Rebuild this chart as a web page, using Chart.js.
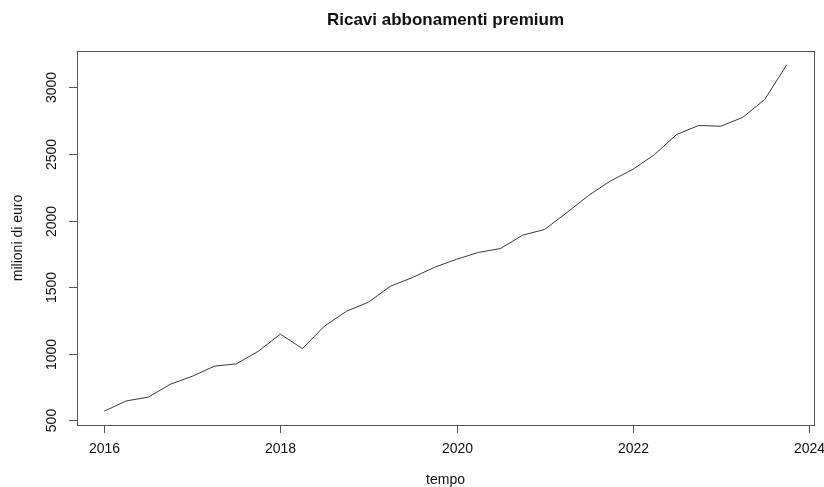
<!DOCTYPE html>
<html>
<head>
<meta charset="utf-8">
<script src="https://cdn.jsdelivr.net/npm/chart.js@4"></script>
<style>
  html, body { margin: 0; padding: 0; background: #fff; }
  #wrap { width: 824px; height: 487px; }
</style>
</head>
<body>
<div id="wrap"><canvas id="chart" width="824" height="487"></canvas></div>
<script>
// quarterly time points
const quarters = [
    2016, 2016.25, 2016.5, 2016.75,
    2017, 2017.25, 2017.5, 2017.75,
    2018, 2018.25, 2018.5, 2018.75,
    2019, 2019.25, 2019.5, 2019.75,
    2020, 2020.25, 2020.5, 2020.75,
    2021, 2021.25, 2021.5, 2021.75,
    2022, 2022.25, 2022.5, 2022.75,
    2023, 2023.25, 2023.5, 2023.75
];

// revenue, millions of euro
const revenue = [
    570, 647, 675, 772,
    832, 908, 925, 1020,
    1148, 1040, 1208, 1320,
    1388, 1508, 1573, 1650,
    1710, 1762, 1791, 1891,
    1934, 2059, 2189, 2299,
    2384, 2497, 2647, 2715,
    2709, 2775, 2910, 3170
];

const xTicks = [2016, 2018, 2020, 2022, 2024];
const yTicks = [500, 1000, 1500, 2000, 2500, 3000];

const FONT = '"Liberation Sans", Arial, Helvetica, sans-serif';

// axes, box and labels drawn by hand in the base-graphics style
const axesPlugin = {
    id: "baseAxes",
    afterDraw(chart) {
        const c = chart.ctx;
        const a = chart.chartArea;
        const sx = chart.scales.x, sy = chart.scales.y;
        c.save();
        c.strokeStyle = "#555";
        c.lineWidth = 1;
        c.strokeRect(a.left + 0.5, a.top + 0.5, a.right - a.left, a.bottom - a.top);

        c.fillStyle = "#111";
        c.font = "14px " + FONT;
        c.textAlign = "center";
        c.textBaseline = "middle";

        xTicks.forEach(t => {
            const px = Math.round(sx.getPixelForValue(t)) + 0.5;
            c.beginPath();
            c.moveTo(px, a.bottom);
            c.lineTo(px, a.bottom + 8);
            c.stroke();
            c.fillText(String(t), px, a.bottom + 24);
        });

        yTicks.forEach(t => {
            const py = Math.round(sy.getPixelForValue(t)) + 0.5;
            c.beginPath();
            c.moveTo(a.left, py);
            c.lineTo(a.left - 8, py);
            c.stroke();
            c.save();
            c.translate(a.left - 25, py);
            c.rotate(-Math.PI / 2);
            c.fillText(String(t), 0, 0);
            c.restore();
        });

        const cx = (a.left + a.right) / 2;
        const cy = (a.top + a.bottom) / 2;
        c.fillText("tempo", cx, 480);
        c.save();
        c.translate(18, cy);
        c.rotate(-Math.PI / 2);
        c.fillText("milioni di euro", 0, 0);
        c.restore();

        c.font = "bold 17px " + FONT;
        c.fillText("Ricavi abbonamenti premium", cx, 20);
        c.restore();
    }
};

const ctx = document.getElementById("chart").getContext("2d");

const chart = new Chart(ctx, {
    type: "line",
    data: {
        datasets: [{
            data: quarters.map((q, i) => ({ x: q, y: revenue[i] })),
            borderColor: "#3a3a3a",
            borderWidth: 1,
            pointRadius: 0,
            tension: 0,
            fill: false
        }]
    },
    options: {
        responsive: false,
        animation: false,
        layout: { padding: { left: 77, top: 51, right: 10, bottom: 62 } },
        plugins: {
            legend: { display: false },
            tooltip: { enabled: false }
        },
        scales: {
            x: { type: "linear", min: 2015.69, max: 2024.06, display: false },
            y: { type: "linear", min: 466, max: 3274, display: false }
        }
    },
    plugins: [axesPlugin]
});
</script>
</body>
</html>
